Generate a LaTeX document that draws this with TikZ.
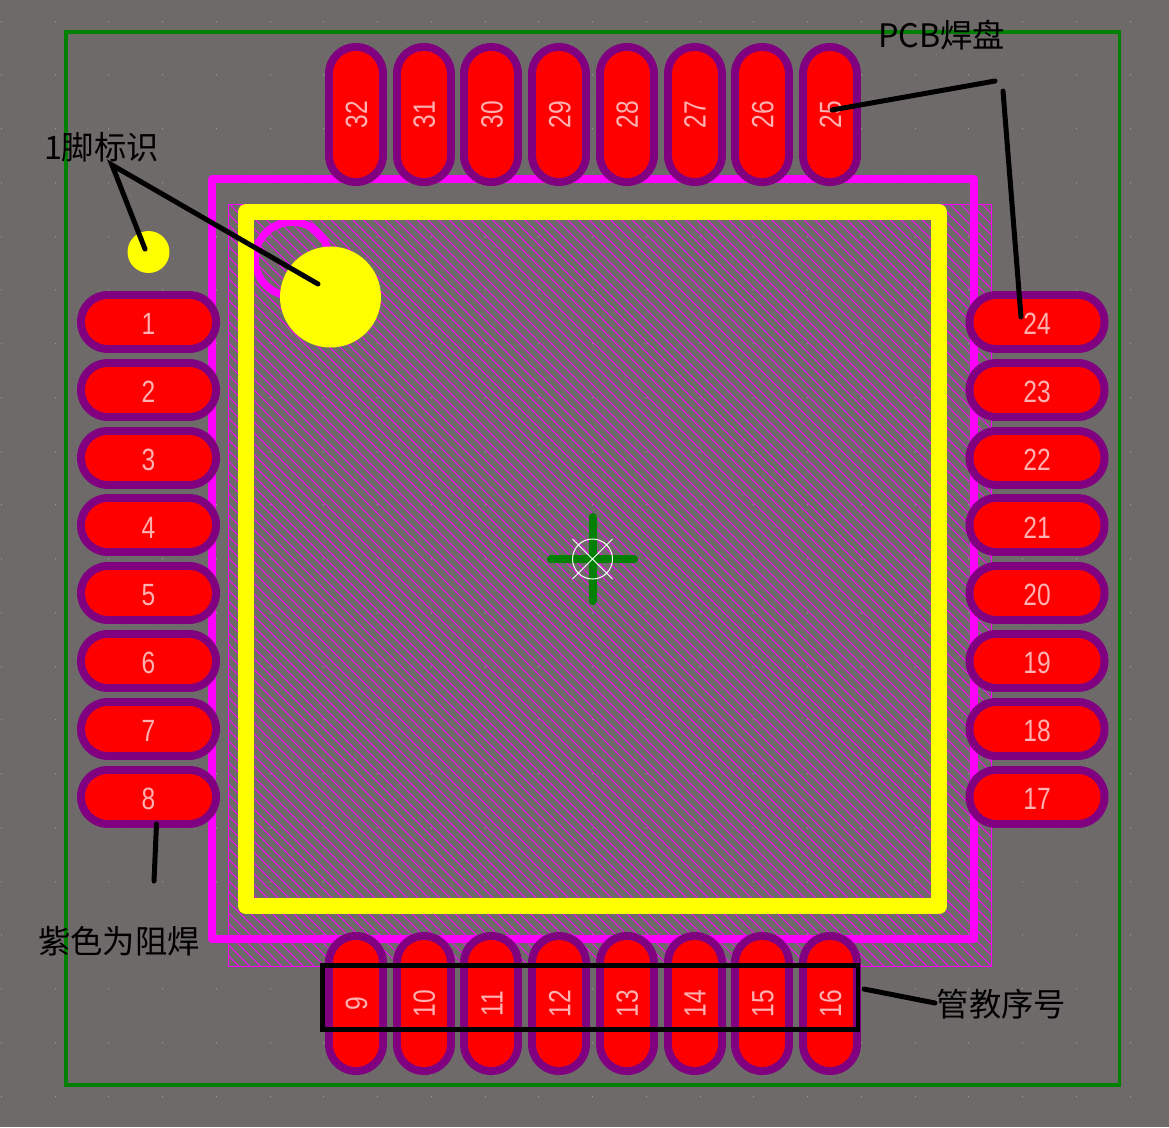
\documentclass[tikz,border=0pt]{standalone}
\usepackage{fontspec}
\usepackage{graphicx}
\setmainfont{Noto Sans CJK SC}
\newfontfamily\numfont{Liberation Sans}
\definecolor{boardgray}{HTML}{6E6A6A}
\definecolor{griddot}{HTML}{7E7A7A}
\definecolor{maskpurple}{HTML}{800080}
\definecolor{padnumber}{HTML}{FFB0B0}
\definecolor{keepgreen}{HTML}{008000}
\definecolor{padred}{HTML}{FF0000}
\definecolor{silkyellow}{HTML}{FFFF00}
\definecolor{fabmagenta}{HTML}{FF00FF}
\newcommand{\padnum}[1]{\raisebox{-7.2pt}[0pt][0pt]{\scalebox{0.8}[1]{\numfont\fontsize{17.5}{18}\selectfont #1}}}
\tikzset{
    padrim/.style={maskpurple,line width=1.24cm,line cap=round},
    padcore/.style={padred,line width=0.92cm,line cap=round},
    padtext/.style={inner sep=0pt,text=padnumber},
    leader/.style={black,line width=0.1cm,line cap=round},
    note/.style={black,inner sep=0pt,font=\fontsize{18.4}{20}\selectfont},
    yellowdot/.style={circle,fill=silkyellow,inner sep=0pt}
}
% row pad and column pad: number, x, y
\newcommand{\rowpad}[3]{
    \draw[padrim,shift={(#2,#3)}] (-40.5,0) -- (40.5,0);
    \draw[padcore,shift={(#2,#3)}] (-40.5,0) -- (40.5,0);
    \node[padtext] (pad#1) at (#2,#3) {\padnum{#1}};
}
\newcommand{\colpad}[3]{
    \draw[padrim,shift={(#2,#3)}] (0,-40.5) -- (0,40.5);
    \draw[padcore,shift={(#2,#3)}] (0,-40.5) -- (0,40.5);
    \node[padtext,rotate=90,yshift=0.03cm] (pad#1) at (#2,#3) {\padnum{#1}};
}
\begin{document}
\begin{tikzpicture}[x=0.02cm,y=-0.02cm]
    \useasboundingbox (0,0) rectangle (1169,1127);
    \fill[boardgray] (0,0) rectangle (1169,1127);
    % grid
    \foreach \y in {0,...,104} {
        \draw[griddot,line width=0.02cm,dash pattern=on 0.02cm off 0.195cm]
            (1,{0.5+10.75*\y}) -- (1169,{0.5+10.75*\y});
    }
    \foreach \y in {0,...,20} {
        \draw[white!30!boardgray,line width=0.02cm,dash pattern=on 0.02cm off 1.055cm]
            (1,{21+53.75*\y}) -- (1169,{21+53.75*\y});
    }
    % hatched courtyard
    \begin{scope}
        \clip (228,204) rectangle (991,966);
        \foreach \k in {0,...,142} {
            \draw[fabmagenta,line width=0.018cm] ({-534+10.75*\k},204) -- ++(762,762);
        }
    \end{scope}
    \draw[fabmagenta,line width=0.02cm] (228,204) rectangle (991,966);
    % outline layers
    \draw[keepgreen,line width=0.07cm] (66,32) rectangle (1119.5,1085);
    \draw[fabmagenta,line width=0.15cm,line join=round] (212,179) rectangle (974,939);
    \draw[fabmagenta,line width=0.15cm] (292,259) circle (37);
    \draw[silkyellow,line width=0.32cm,line join=round] (246,212) rectangle (939,906);
    \node[yellowdot,minimum size=2.02cm] (bigmark) at (330.5,297) {};
    \node[yellowdot,minimum size=0.84cm] (smallmark) at (148.5,252) {};
    % pads
    \foreach \n in {1,...,8} {
        \pgfmathsetmacro{\py}{322+67.8*(\n-1)}
        \rowpad{\n}{148.5}{\py}
    }
    \foreach \n in {9,...,16} {
        \pgfmathsetmacro{\px}{356+67.7*(\n-9)}
        \colpad{\n}{\px}{1003.5}
    }
    \foreach \n in {17,...,24} {
        \pgfmathsetmacro{\py}{322+67.8*(24-\n)}
        \rowpad{\n}{1037}{\py}
    }
    \foreach \n in {25,...,32} {
        \pgfmathsetmacro{\px}{356+67.7*(32-\n)}
        \colpad{\n}{\px}{114.5}
    }
    % origin cross
    \draw[keepgreen,line width=0.16cm,line cap=round]
        (551,559) -- (634,559) (592.5,517) -- (592.5,601);
    \draw[white,line width=0.02cm] (592.5,559) circle (20)
        (572.5,539) -- (612.5,579) (572.5,579) -- (612.5,539);
    % numbering frame
    \draw[black,line width=0.09cm] (322.5,965.5) rectangle (858,1029.5);
    % notes
    \node[note] (marknote) at (101.5,147) {1脚标识};
    \node[note] (padnote) at (941.5,35) {PCB焊盘};
    \node[note] (masknote) at (119,941) {紫色为阻焊};
    \node[note] (numnote) at (1001.5,1004) {管教序号};
    \coordinate (markroot) at (112,165);
    \coordinate (bigend) at (318,284);
    \coordinate (smallend) at (145,249);
    \coordinate (padroot) at (995,81);
    \coordinate (padend) at (832,110);
    \coordinate (padrootb) at (1003,91);
    \coordinate (padendb) at (1021,317);
    \coordinate (maskroot) at (156.5,824);
    \coordinate (maskend) at (154,881);
    \coordinate (numroot) at (864,989);
    \coordinate (numend) at (935,1003);
    \draw[leader] (bigend) -- (markroot) -- (smallend);
    \draw[leader] (padroot) -- (padend);
    \draw[leader] (padrootb) -- (padendb);
    \draw[leader] (maskroot) -- (maskend);
    \draw[leader] (numroot) -- (numend);
\end{tikzpicture}
\end{document}
